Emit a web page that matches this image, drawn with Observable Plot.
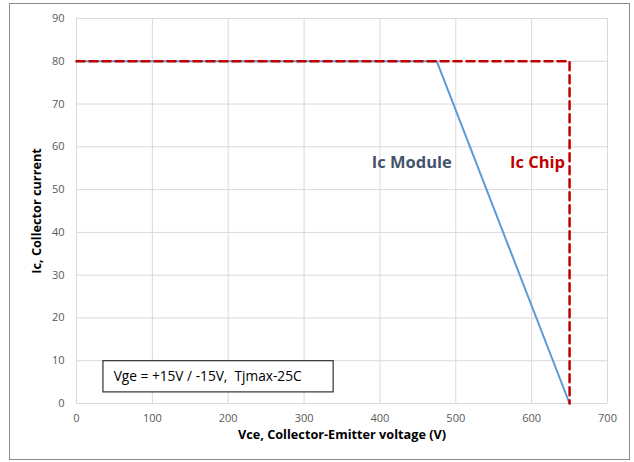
<!DOCTYPE html>
<html>
<head>
<meta charset="utf-8">
<script src="https://cdn.jsdelivr.net/npm/d3@7"></script>
<script src="https://cdn.jsdelivr.net/npm/@observablehq/plot@0.6"></script>
<style>
  html, body { margin: 0; padding: 0; background: #fff; }
  #wrap { position: relative; width: 634px; height: 462px; }
  #border { position: absolute; left: 9px; top: 3px; width: 619px; height: 455px; border: 1px solid #8c8c8c; pointer-events: none; }
</style>
</head>
<body>
<div id="wrap"><div id="border"></div></div>
<script>
// Data
const moduleVce = [0, 475, 650];
const moduleIc = [80, 80, 0];
const chipVce = [0, 650, 650];
const chipIc = [80, 80, 0];
const xTicks = [0, 100, 200, 300, 400, 500, 600, 700];
const yTicks = [0, 10, 20, 30, 40, 50, 60, 70, 80, 90];
const seriesNames = ["Ic Module", "Ic Chip"];
const xLabel = "Vce, Collector-Emitter voltage (V)";
const yLabel = "Ic, Collector current";
const noteText = "Vge = +15V / -15V,  Tjmax-25C";

const moduleData = moduleVce.map((v, i) => ({x: v, y: moduleIc[i]}));
const chipData = chipVce.map((v, i) => ({x: v, y: chipIc[i]}));

const chart = Plot.plot({
  width: 634,
  height: 462,
  marginLeft: 76,
  marginRight: 27,
  marginTop: 18,
  marginBottom: 59,
  style: {fontFamily: "'Open Sans', sans-serif", background: "transparent"},
  x: {domain: [0, 700]},
  y: {domain: [0, 90]},
  marks: [
    Plot.gridX(xTicks, {stroke: "#d9d9d9", strokeOpacity: 1}),
    Plot.gridY(yTicks, {stroke: "#d9d9d9", strokeOpacity: 1}),
    Plot.axisX(xTicks, {tickSize: 0, tickPadding: 11, fontSize: 11, fill: "#595959", label: null}),
    Plot.axisY(yTicks, {tickSize: 0, tickPadding: 12, fontSize: 11, fill: "#595959", label: null}),
    Plot.line(moduleData, {x: "x", y: "y", stroke: "#5b9bd5", strokeWidth: 2}),
    Plot.line(chipData, {x: "x", y: "y", stroke: "#c00000", strokeWidth: 2.5, strokeDasharray: "8,5"}),
    Plot.text([seriesNames[0]], {x: 442, y: 56.3, text: d => d, fill: "#44546a", fontWeight: "bold", fontSize: 16.5}),
    Plot.text([seriesNames[1]], {x: 644, y: 56.3, text: d => d, fill: "#c00000", fontWeight: "bold", fontSize: 16.5, textAnchor: "end"}),
    Plot.rect([noteText], {x1: 35.5, x2: 339, y1: 2.6, y2: 9.9, fill: "white", stroke: "#404040", strokeWidth: 1.3}),
    Plot.text([noteText], {x: 49, y: 6.25, text: d => d, textAnchor: "start", fontSize: 13.7, fill: "#000"}),
    Plot.text([xLabel], {frameAnchor: "bottom", dy: 35, text: d => d, fontWeight: "bold", fontSize: 12.7, fill: "#000"}),
    Plot.text([yLabel], {frameAnchor: "left", dx: -40, rotate: -90, textAnchor: "middle", text: d => d, fontWeight: "bold", fontSize: 12.7, fill: "#000"})
  ]
});
document.getElementById("wrap").appendChild(chart);
chart.style.position = "absolute";
chart.style.left = "0";
chart.style.top = "0";
</script>
</body>
</html>
